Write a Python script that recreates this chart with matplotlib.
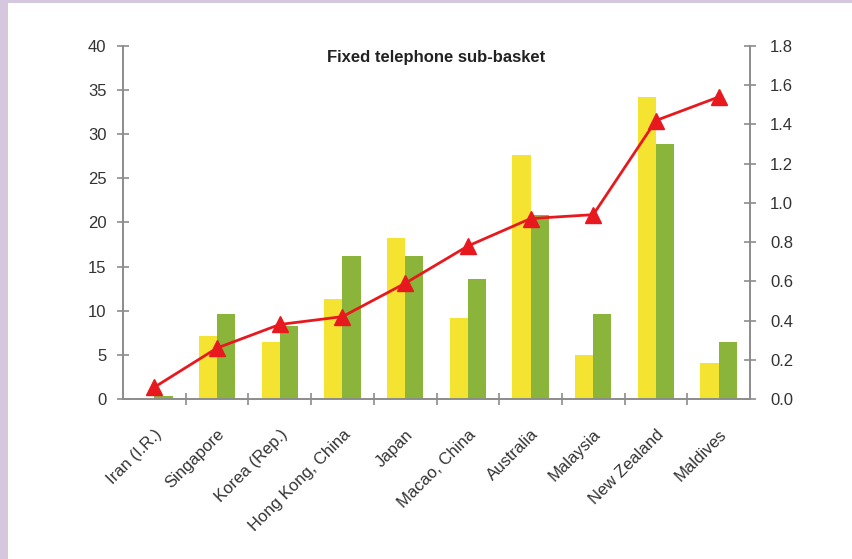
import numpy as np
import matplotlib
matplotlib.use('Agg')
import matplotlib.pyplot as plt
from matplotlib.patches import Rectangle

# --- Data ---
countries = ["Iran (I.R.)", "Singapore", "Korea (Rep.)", "Hong Kong, China", "Japan",
             "Macao, China", "Australia", "Malaysia", "New Zealand", "Maldives"]
yellow_vals = [0.0, 7.1, 6.5, 11.3, 18.2, 9.2, 27.6, 5.0, 34.2, 4.1]
green_vals = [0.3, 9.6, 8.3, 16.2, 16.2, 13.6, 20.8, 9.6, 28.9, 6.5]
line_vals = [0.06, 0.26, 0.38, 0.42, 0.59, 0.78, 0.92, 0.94, 1.42, 1.54]
left_ticks = [0, 5, 10, 15, 20, 25, 30, 35, 40]
right_ticks = [0.0, 0.2, 0.4, 0.6, 0.8, 1.0, 1.2, 1.4, 1.6, 1.8]

# --- Style ---
YELLOW = '#F5E332'
GREEN = '#8AB43A'
RED = '#E8191E'
AXIS = '#8C8C8C'
TEXT = '#333333'
plt.rcParams['font.family'] = ['Liberation Sans', 'DejaVu Sans']

fig = plt.figure(figsize=(8.52, 5.59), dpi=100)

# lavender frame strips
fig.patches.append(Rectangle((0, 0), 8 / 852, 1, transform=fig.transFigure,
                             facecolor='#D5C8DE', edgecolor='none'))
fig.patches.append(Rectangle((0, 1 - 3 / 559), 1, 3 / 559, transform=fig.transFigure,
                             facecolor='#D5C8DE', edgecolor='none'))

ax = fig.add_axes([123 / 852, 1 - 399 / 559, 627 / 852, 353 / 559])
ax2 = ax.twinx()

x = np.arange(len(countries))
w = 0.29
ax.bar(x - w / 2, yellow_vals, width=w, color=YELLOW, zorder=2)
ax.bar(x + w / 2, green_vals, width=w, color=GREEN, zorder=2)
ax2.plot(x, line_vals, color=RED, linewidth=2, marker='^', markersize=12,
         markerfacecolor=RED, markeredgecolor=RED, zorder=3)

ax.set_xlim(-0.5, len(countries) - 0.5)
ax.set_ylim(0, 40)
ax2.set_ylim(0, 1.8)

# spines
for a in (ax, ax2):
    a.spines['top'].set_visible(False)
    for s in ('left', 'right', 'bottom'):
        a.spines[s].set_color(AXIS)
        a.spines[s].set_linewidth(1.2)

# y axes
ax.set_yticks(left_ticks)
ax.set_yticklabels([str(t) for t in left_ticks])
ax.tick_params(axis='y', direction='inout', length=9, width=1.2, color=AXIS,
               labelsize=12, labelcolor=TEXT, pad=7.5)
ax2.set_yticks(right_ticks)
ax2.set_yticklabels([f"{t:.1f}" for t in right_ticks])
ax2.tick_params(axis='y', direction='inout', length=9, width=1.2, color=AXIS,
                labelsize=12, labelcolor=TEXT, pad=10)

# x axis: ticks on category boundaries, labels at centres
ax.set_xticks(np.arange(0.5, len(countries) - 0.5, 1.0))
ax.set_xticklabels([])
ax.tick_params(axis='x', which='major', direction='inout', length=8, width=1.2, color=AXIS)
ax.set_xticks(x, minor=True)
ax.set_xticklabels(countries, minor=True, rotation=45, ha='right', va='top',
                   rotation_mode='anchor')
ax.tick_params(axis='x', which='minor', length=0, labelsize=12, labelcolor=TEXT, pad=20)

ax.text(0.5, 0.968, "Fixed telephone sub-basket", transform=ax.transAxes,
        ha='center', va='center', fontsize=12, fontweight='bold', color='#222222')

fig.savefig('out.png', dpi=100)
